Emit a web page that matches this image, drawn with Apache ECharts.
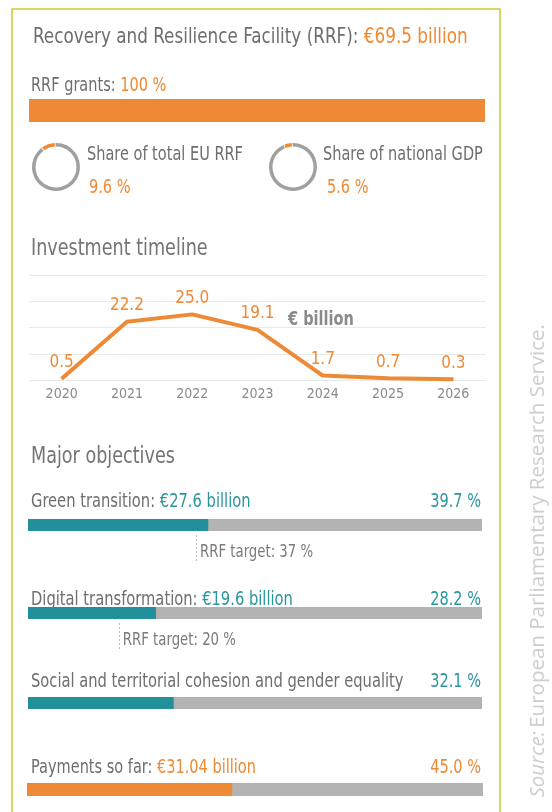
<!DOCTYPE html>
<html>
<head>
<meta charset="utf-8">
<script src="https://cdn.jsdelivr.net/npm/echarts@6/dist/echarts.min.js"></script>
<style>
  html, body { margin: 0; padding: 0; background: #fff; }
  #main { width: 552px; height: 812px; }
</style>
</head>
<body>
<div id="main"></div>
<script>
// headline numbers
const rrfTotal = 69.5;          // € billion
const grantsShare = 100;        // %
const shareEU = 9.6;            // % of total EU RRF
const shareGDP = 5.6;           // % of national GDP

// investment timeline (€ billion)
const years = ['2020', '2021', '2022', '2023', '2024', '2025', '2026'];
const investment = [0.5, 22.2, 25.0, 19.1, 1.7, 0.7, 0.3];

// major objectives
const objectives = ['Green transition', 'Digital transformation', 'Social and territorial cohesion and gender equality'];
const objectiveAmounts = [27.6, 19.6, null];   // € billion
const objectiveShares = [39.7, 28.2, 32.1];    // %
const rrfTargets = [37, 20, null];             // %

// payments
const paymentsAmount = 31.04;   // € billion
const paymentsShare = 45.0;     // %

// no narrow font installed, so texts get squeezed with scaleX
const FONT = "'DejaVu Sans Condensed', 'DejaVu Sans', sans-serif";
const SQUEEZE = 0.85;
const ORANGE = '#ee8a35';
const TEAL = '#21909a';
const TEAL_TXT = '#2a969d';
const GREY_TXT = '#6e6e6e';
const BAR_BG = '#b3b3b3';

let chartDom = document.getElementById('main');
let myChart = echarts.init(chartDom);

// layout of the horizontal bars
const barLeft = 28, barRight = 70;
const objBarTops = [519, 607, 697];
const objTextY = [502, 600, 682];
const payBarTop = 783, payTextY = 768;

let grids = [], xAxes = [], yAxes = [], series = [];
let targetGrids = [];

function addGrid(g, xa, ya) {
    grids.push(g);
    xAxes.push(Object.assign({ gridIndex: grids.length - 1 }, xa));
    yAxes.push(Object.assign({ gridIndex: grids.length - 1 }, ya));
    return grids.length - 1;
}

function hiddenValue(max) {
    return { type: 'value', min: 0, max: max, show: false, splitLine: { show: false } };
}

function addBar(top, height, value, color, left, right) {
    let gi = addGrid(
        { left: left, right: right, top: top, height: height },
        hiddenValue(100),
        { type: 'category', data: [''], show: false }
    );
    series.push({
        type: 'bar', xAxisIndex: gi, yAxisIndex: gi,
        data: [value], barWidth: '100%', silent: true,
        showBackground: true,
        backgroundStyle: { color: BAR_BG },
        itemStyle: { color: color }
    });
}

// RRF grants bar
addBar(99, 23, grantsShare, ORANGE, 29, 67);

// investment timeline
let lineGrid = addGrid(
    { left: 29, right: 66, top: 275, height: 105 },
    {
        type: 'category', data: years, boundaryGap: true,
        axisLine: { show: false }, axisTick: { show: false },
        axisLabel: { color: '#8a8a8a', fontSize: 14, fontFamily: FONT, margin: 7 }
    },
    {
        type: 'value', min: 0, max: 40, interval: 10,
        axisLabel: { show: false }, axisLine: { show: false }, axisTick: { show: false },
        splitLine: { lineStyle: { color: '#e9e9e9', width: 1 } }
    }
);
series.push({
    type: 'line', xAxisIndex: lineGrid, yAxisIndex: lineGrid,
    data: investment, symbol: 'circle', symbolSize: 1, showSymbol: true, silent: true,
    itemStyle: { color: ORANGE },
    lineStyle: { color: ORANGE, width: 4 },
    label: {
        show: true, position: 'top', distance: 7,
        color: ORANGE, fontSize: 17, fontFamily: FONT,
        formatter: p => p.value.toFixed(1)
    }
});

// objectives bars + RRF target markers
objectives.forEach(function (name, i) {
    addBar(objBarTops[i], 12, objectiveShares[i], TEAL, barLeft, barRight);
    if (rrfTargets[i] != null) {
        let gi = addGrid(
            { left: barLeft, right: barRight, top: objBarTops[i] + 15, height: 27 },
            hiddenValue(100),
            hiddenValue(1)
        );
        targetGrids.push({ grid: gi, value: rrfTargets[i], y: objBarTops[i] + 33 });
        series.push({
            type: 'line', xAxisIndex: gi, yAxisIndex: gi, silent: true,
            data: [],
            markLine: {
                silent: true, symbol: 'none', label: { show: false },
                lineStyle: { color: '#bdbdbd', type: [2, 2], width: 1 },
                data: [{ xAxis: rrfTargets[i] }]
            }
        });
    }
});

// payments bar
addBar(payBarTop, 13, paymentsShare, ORANGE, 27, 69);

// donuts
function donut(cx, value) {
    return {
        type: 'pie', center: [cx, 167], radius: [20.5, 24],
        startAngle: 92, clockwise: false, silent: true, padAngle: 2,
        label: { show: false }, labelLine: { show: false },
        data: [
            { value: value, itemStyle: { color: ORANGE } },
            { value: 100 - value, itemStyle: { color: '#a0a0a0' } }
        ]
    };
}
series.push(donut(56, shareEU));
series.push(donut(293, shareGDP));

// texts
function txt(x, y, text, opts, sx) {
    return {
        type: 'text', x: x, y: y, silent: true, scaleX: sx || SQUEEZE,
        style: Object.assign({
            text: text, fontFamily: FONT, fontSize: 19, fill: GREY_TXT,
            verticalAlign: 'middle', textAlign: 'left'
        }, opts || {})
    };
}
function richTxt(x, y, text, size, accent, sx) {
    return txt(x, y, text, {
        fontSize: size,
        rich: {
            g: { fill: GREY_TXT, fontSize: size, fontFamily: FONT },
            a: { fill: accent, fontSize: size, fontFamily: FONT }
        }
    }, sx);
}

let graphics = [
    {
        type: 'rect', silent: true,
        shape: { x: 12, y: 9, width: 488, height: 900 },
        style: { fill: 'none', stroke: '#c7cb33', lineWidth: 1.5 }
    },
    richTxt(33, 37, '{g|Recovery and Resilience Facility (RRF): }{a|€' + rrfTotal + ' billion}', 22, ORANGE),
    richTxt(31, 86, '{g|RRF grants: }{a|' + grantsShare + ' %}', 19, ORANGE),
    txt(87, 155, 'Share of total EU RRF', { fontSize: 19 }),
    txt(89, 188, shareEU + ' %', { fontSize: 19, fill: ORANGE }),
    txt(323, 155, 'Share of national GDP', { fontSize: 19 }),
    txt(327, 188, shareGDP + ' %', { fontSize: 19, fill: ORANGE }),
    txt(31, 249, 'Investment timeline', { fontSize: 23, fill: '#747474' }),
    txt(288, 320, '€ billion', { fontSize: 19, fontWeight: 'bold', fill: '#8a8a8a' }),
    txt(31, 457, 'Major objectives', { fontSize: 23, fill: '#747474' })
];

objectives.forEach(function (name, i) {
    let t = objectiveAmounts[i] != null
        ? '{g|' + name + ': }{a|€' + objectiveAmounts[i] + ' billion}'
        : '{g|' + name + '}';
    graphics.push(richTxt(31, objTextY[i], t, 19, TEAL_TXT, 0.86));
    graphics.push(txt(481, objTextY[i], objectiveShares[i].toFixed(1) + ' %', { fontSize: 19, fill: TEAL_TXT, textAlign: 'right' }));
});
graphics.push(richTxt(31, payTextY, '{g|Payments so far: }{a|€' + paymentsAmount.toFixed(2) + ' billion}', 19, ORANGE));
graphics.push(txt(481, payTextY, paymentsShare.toFixed(1) + ' %', { fontSize: 19, fill: ORANGE, textAlign: 'right' }));

// source, rotated
graphics.push({
    type: 'text', x: 538, y: 324, rotation: Math.PI / 2, silent: true,
    style: {
        text: '{i|Source:} {n|European Parliamentary Research Service.}',
        textAlign: 'right', verticalAlign: 'middle',
        rich: {
            i: { fontFamily: 'Open Sans', fontStyle: 'italic', fontSize: 20.5, fill: '#cdcdcd' },
            n: { fontFamily: 'Open Sans', fontSize: 20.5, fill: '#cdcdcd' }
        }
    }
});

let option = {
    animation: false,
    grid: grids,
    xAxis: xAxes,
    yAxis: yAxes,
    series: series,
    graphic: graphics
};

myChart.setOption(option);

// RRF target labels placed on the bars' own scale
targetGrids.forEach(function (t) {
    let px = myChart.convertToPixel({ gridIndex: t.grid }, [t.value, 0]);
    graphics.push(txt(px[0] + 4, t.y, 'RRF target: ' + t.value + ' %', { fontSize: 18, fill: '#7a7a7a' }, 0.82));
});
myChart.setOption({ graphic: graphics });
</script>
</body>
</html>
